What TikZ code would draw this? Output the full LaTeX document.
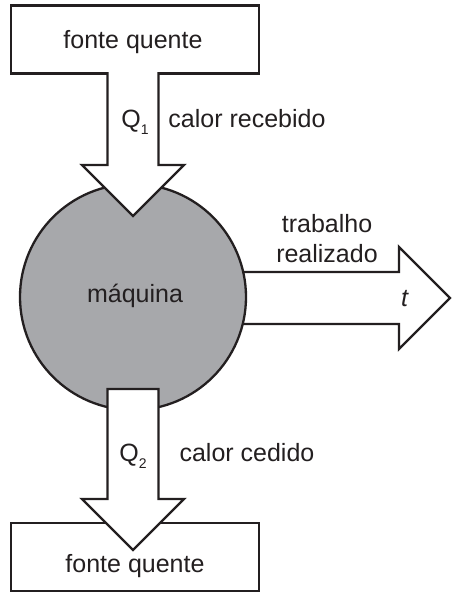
\documentclass[tikz,border=0pt]{standalone}
\usepackage{fontspec}
\setmainfont{Liberation Sans}
\usepackage{tikz}
\usetikzlibrary{shapes.geometric}

\definecolor{ink}{RGB}{35,31,32}
\definecolor{maqgray}{RGB}{167,168,171}
\newcommand{\heatsub}[1]{\raisebox{-0.6ex}{\fontsize{7}{8}\selectfont #1}}

\begin{document}
\begin{tikzpicture}[x=0.5pt,y=-0.5pt,line width=1.15pt,draw=ink,text=ink,
  font=\fontsize{12.5}{15}\selectfont]

\tikzstyle{fonte}=[rectangle,draw,fill=white,minimum width=124pt,minimum height=34pt,inner sep=0pt]
\tikzstyle{lbl}=[anchor=base,inner sep=0pt]
\tikzstyle{bigarrow}=[draw,fill=white,line join=miter]

\useasboundingbox (0,0) rectangle (461,602);

% reservatorios
\node[fonte] (fq1) at (135,39.5) {} ;
\node[fonte] (fq2) at (135,557)  {} ;

% seta do trabalho (por baixo da maquina)
\draw[bigarrow] (200,272) -- (399,272) -- (399,247) -- (450,298)
                -- (399,349) -- (399,324) -- (200,324) ;

\node[circle,draw,fill=maqgray,minimum size=113pt,inner sep=0pt] (maq) at (133,297) {} ;

% setas de calor
\draw[bigarrow] (107.5,72) -- (107.5,165) -- (82,165) -- (133,216)
                -- (184,165) -- (158.5,165) -- (158.5,72) ;
\draw[bigarrow] (107.5,389) -- (158.5,389) -- (158.5,499) -- (184,499)
                -- (133,550) -- (82,499) -- (107.5,499) -- cycle ;

% textos
\node[lbl] (tfq1) at (133,48)  {fonte quente} ;
\node[lbl] (tfq2) at (135,572) {fonte quente} ;
\node[lbl] (tmaq) at (135,302) {máquina} ;
\node[lbl] (q1)   at (135,127) {Q\heatsub{1}} ;
\node[lbl] (crec) at (247,127) {calor recebido} ;
\node[lbl] (q2)   at (133,461) {Q\heatsub{2}} ;
\node[lbl] (cced) at (247,461) {calor cedido} ;
\node[lbl] (trab) at (327,232) {trabalho} ;
\node[lbl] (real) at (327,262) {realizado} ;
\node[lbl] (tt)   at (405,306) {\textit{t}} ;

% \draw [->] (fq1) -- (maq);
% \draw [->] (maq) -- (fq2);

\end{tikzpicture}
\end{document}
